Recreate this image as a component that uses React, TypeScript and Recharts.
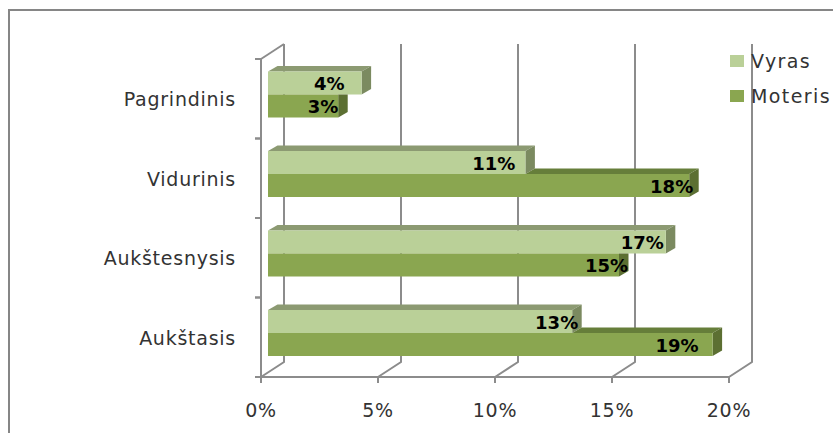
import React from "react";
import {
  BarChart,
  Bar,
  XAxis,
  YAxis,
  CartesianGrid,
  Legend,
  LabelList,
} from "recharts";

// Values
const categories = ["Pagrindinis", "Vidurinis", "Aukštesnysis", "Aukštasis"];
const vyras = [4, 11, 17, 13];
const moteris = [3, 18, 15, 19];
const percentTicks = [0, 5, 10, 15, 20];

const rows = categories.map((name, i) => ({
  name,
  Vyras: vyras[i],
  Moteris: moteris[i],
}));

// Nudges for the data labels, the source has them placed by hand
const vyrasLabelNudge = [-17, -10, -2, 6];
const moterisLabelNudge = [0, 4, 9, -14];

const FONT = "'DejaVu Sans', Verdana, sans-serif";
const AXIS = "#8c8c8c";
const TEXT = "#333333";

const MARGIN = { top: 59, right: 1, bottom: 0, left: 0 };
const BAND = (377 - 59) / categories.length;

// the fake 3D of the original
const WALL_DX = 23;
const WALL_DY = 15;
const BAR_DX = 7;
const BAR_DY = -4.5;
const FACE_DX = 9.5;
const FACE_DY = 5.5;

// back wall lines, with the diagonal across the floor
const wallLine = (props: any) => {
  const { x1, y1, y2, index } = props;
  const bottom = Math.max(y1, y2);
  const top = Math.min(y1, y2);
  const bx = x1 + WALL_DX;
  const points = `${x1},${bottom} ${bx},${bottom - WALL_DY} ${bx},${top - WALL_DY}`;
  return (
    <g key={`wall-${index}`}>
      <polyline points={points} fill="none" stroke={AXIS} strokeWidth={2} />
      {index === 0 && (
        <line x1={x1} y1={top} x2={bx} y2={top - WALL_DY} stroke={AXIS} strokeWidth={2} />
      )}
    </g>
  );
};

const CategoryTick = (props: any) => {
  const { x, y, payload } = props;
  const edge = x + 25;
  return (
    <g>
      <line x1={edge - 6} x2={edge} y1={y - BAND / 2} y2={y - BAND / 2} stroke={AXIS} strokeWidth={2} />
      <line x1={edge - 6} x2={edge} y1={y + BAND / 2} y2={y + BAND / 2} stroke={AXIS} strokeWidth={2} />
      <text
        x={x}
        y={y + 2}
        textAnchor="end"
        dominantBaseline="middle"
        fontFamily={FONT}
        fontSize={19}
        letterSpacing={0.75}
        fill={TEXT}
      >
        {payload.value}
      </text>
    </g>
  );
};

const VyrasBar = (props: any) => {
  const { x, y, width, height } = props;
  const l = x + BAR_DX;
  const t = y + BAR_DY;
  const r = l + width;
  const b = t + height;
  return (
    <g>
      <polygon points={`${l},${t} ${r},${t} ${r + FACE_DX},${t - FACE_DY} ${l + FACE_DX},${t - FACE_DY}`} fill="#8c9a72" />
      <polygon points={`${r},${t} ${r + FACE_DX},${t - FACE_DY} ${r + FACE_DX},${b - FACE_DY} ${r},${b}`} fill="#7b8a60" />
      <rect x={l} y={t} width={width} height={height} fill="#bad098" />
    </g>
  );
};

// drawn after Vyras, so the top face starts where the Vyras bar ends
const MoterisBar = (props: any) => {
  const { x, y, width, height, payload } = props;
  const l = x + BAR_DX;
  const t = y + BAR_DY;
  const r = l + width;
  const b = t + height;
  const longer = payload.Moteris > payload.Vyras;
  const topStart = l + (width * payload.Vyras) / payload.Moteris;
  return (
    <g>
      {longer && (
        <polygon
          points={`${topStart},${t} ${r},${t} ${r + FACE_DX},${t - FACE_DY} ${topStart + FACE_DX},${t - FACE_DY}`}
          fill="#667e3a"
        />
      )}
      <polygon
        points={
          longer
            ? `${r},${t} ${r + FACE_DX},${t - FACE_DY} ${r + FACE_DX},${b - FACE_DY} ${r},${b}`
            : `${r},${t} ${r + FACE_DX},${t} ${r + FACE_DX},${b - FACE_DY} ${r},${b}`
        }
        fill="#5c6f32"
      />
      <rect x={l} y={t} width={width} height={height} fill="#8aa650" />
    </g>
  );
};

const barLabel = (nudges: number[]) => (props: any) => {
  const { x, y, width, height, value, index } = props;
  return (
    <text
      x={x + BAR_DX + width + nudges[index]}
      y={y + BAR_DY + height / 2 + 2}
      textAnchor="end"
      dominantBaseline="middle"
      fontFamily={FONT}
      fontSize={18}
      fontWeight="bold"
      fill="#000000"
    >
      {`${value}%`}
    </text>
  );
};

const LegendBox = ({ payload }: any) => {
  const items = [...(payload || [])].sort((a: any, b: any) => (a.value < b.value ? 1 : -1));
  return (
    <div style={{ fontFamily: FONT, fontSize: 19, letterSpacing: 1.4, color: TEXT }}>
      {items.map((item: any) => (
        <div key={item.value} style={{ display: "flex", alignItems: "center", height: 35 }}>
          <span style={{ width: 14, height: 12, background: item.color, marginRight: 7, flex: "none" }} />
          {item.value}
        </div>
      ))}
    </div>
  );
};

export default function App() {
  return (
    <div style={{ position: "absolute", left: 0, top: 0, width: 833, height: 433, overflow: "hidden", background: "#fff" }}>
      <div
        style={{
          position: "absolute",
          left: 8,
          top: 9,
          width: 825,
          height: 424,
          borderTop: "2px solid #868686",
          borderLeft: "2px solid #868686",
          boxSizing: "border-box",
        }}
      />
      <div style={{ position: "absolute", left: 0, top: 0 }}>
        <BarChart
          width={833}
          height={433}
          data={rows}
          layout="vertical"
          margin={MARGIN}
          barSize={23}
          barGap={0}
        >
          <CartesianGrid horizontal={false} vertical={wallLine} />
          <XAxis
            type="number"
            domain={[0, 20]}
            ticks={percentTicks}
            interval={0}
            height={56}
            tickFormatter={(v) => `${v}%`}
            tick={{ fontFamily: FONT, fontSize: 19, letterSpacing: 0.75, fill: TEXT }}
            tickSize={6}
            tickMargin={21}
            axisLine={{ stroke: AXIS, strokeWidth: 2 }}
            tickLine={{ stroke: AXIS, strokeWidth: 2 }}
          />
          <YAxis
            type="category"
            dataKey="name"
            width={261}
            tick={<CategoryTick />}
            tickLine={false}
            tickMargin={19}
            axisLine={{ stroke: AXIS, strokeWidth: 2 }}
          />
          <Legend
            layout="vertical"
            align="right"
            verticalAlign="top"
            content={<LegendBox />}
            wrapperStyle={{ left: 730, top: 43, width: 103 }}
          />
          <Bar dataKey="Vyras" fill="#bad098" shape={<VyrasBar />} isAnimationActive={false}>
            <LabelList dataKey="Vyras" content={barLabel(vyrasLabelNudge)} />
          </Bar>
          <Bar dataKey="Moteris" fill="#8aa650" shape={<MoterisBar />} isAnimationActive={false}>
            <LabelList dataKey="Moteris" content={barLabel(moterisLabelNudge)} />
          </Bar>
        </BarChart>
      </div>
    </div>
  );
}
